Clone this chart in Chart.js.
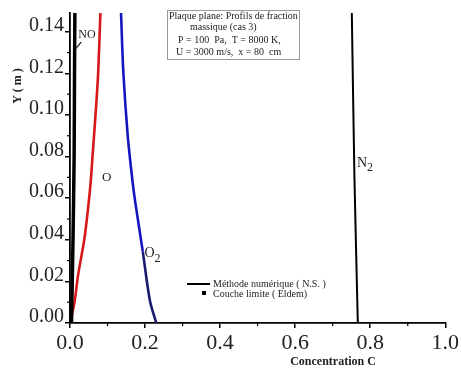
<!DOCTYPE html>
<html>
<head>
<meta charset="utf-8">
<script src="https://cdn.jsdelivr.net/npm/chart.js@4/dist/chart.umd.min.js"></script>
<style>
html,body{margin:0;padding:0;background:#fff;}
#wrap{width:461px;height:376px;position:relative;}
</style>
</head>
<body>
<div id="wrap"><canvas id="c" width="461" height="376"></canvas></div>
<script>
// ---- data ----
const xTicks = [0.0, 0.2, 0.4, 0.6, 0.8, 1.0];
const yTicks = [0.00, 0.02, 0.04, 0.06, 0.08, 0.10, 0.12, 0.14];

const yNO = [0, 0.04, 0.08, 0.12, 0.149];
const cNO = [0.004, 0.008, 0.011, 0.012, 0.013];

const yO = [0, 0.004, 0.01, 0.0235, 0.04, 0.05, 0.06, 0.0675, 0.08, 0.10, 0.12, 0.149];
const cO = [0, 0.005, 0.012, 0.022, 0.038, 0.045, 0.051, 0.055, 0.060, 0.068, 0.075, 0.081];

const yO2 = [0, 0.0107, 0.0343, 0.058, 0.0675, 0.0897, 0.121, 0.149];
const cO2 = [0.230, 0.213, 0.194, 0.174, 0.167, 0.154, 0.142, 0.136];

const yN2 = [0, 0.07, 0.149];
const cN2 = [0.767, 0.758, 0.751];

const speciesLabels = [
  {main:'NO', sub:'', c:0.045, y:0.1384, size:12},
  {main:'O', sub:'', c:0.098, y:0.0698, size:13},
  {main:'O', sub:'2', c:0.212, y:0.0334, size:14},
  {main:'N', sub:'2', c:0.778, y:0.0769, size:14}
];
const boxLines = ['Plaque plane: Profils de fraction', 'massique (cas 3)', 'P = 100  Pa,  T = 8000 K,', 'U = 3000 m/s,  x = 80  cm'];
const legendItems = ['Méthode numérique ( N.S. )', 'Couche limite ( Eldem)'];

function pts(cs, ys){ return cs.map((c,i)=>({x:c, y:ys[i]})); }

const SERIF = '"Liberation Serif", "DejaVu Serif", serif';

const overlay = {
  id:'overlay',
  afterDraw(chart){
    const ctx = chart.ctx, xs = chart.scales.x, ys = chart.scales.y;
    ctx.save();
    // minor ticks
    ctx.strokeStyle = '#000'; ctx.lineWidth = 1.2;
    for (let i=0;i<xTicks.length-1;i++){
      const v = (xTicks[i]+xTicks[i+1])/2, px = xs.getPixelForValue(v);
      ctx.beginPath(); ctx.moveTo(px, xs.top); ctx.lineTo(px, xs.top+3); ctx.stroke();
    }
    for (let i=0;i<yTicks.length-1;i++){
      const v = (yTicks[i]+yTicks[i+1])/2, py = ys.getPixelForValue(v);
      ctx.beginPath(); ctx.moveTo(ys.right, py); ctx.lineTo(ys.right-3, py); ctx.stroke();
    }
    // axis titles
    ctx.fillStyle = '#222';
    ctx.font = 'bold 12px ' + SERIF;
    ctx.textAlign = 'center'; ctx.textBaseline = 'middle';
    ctx.fillText('Concentration C', 333, 362);
    ctx.save();
    ctx.translate(18, 86); ctx.rotate(-Math.PI/2);
    ctx.fillText('Y ( m )', 0, 0);
    ctx.restore();
    // species labels
    ctx.textAlign = 'left';
    speciesLabels.forEach(l=>{
      const px = xs.getPixelForValue(l.c), py = ys.getPixelForValue(l.y);
      ctx.font = l.size + 'px ' + SERIF;
      const w = ctx.measureText(l.main).width;
      const x0 = px - w/2;
      ctx.fillText(l.main, x0, py);
      if (l.sub){
        ctx.font = (l.size-2) + 'px ' + SERIF;
        ctx.fillText(l.sub, x0 + w, py + 5);
      }
      if (l.main === 'NO' && !l.sub){
        ctx.strokeStyle = '#111'; ctx.lineWidth = 1.2;
        ctx.beginPath(); ctx.moveTo(x0+3, py+7); ctx.lineTo(x0-3, py+14); ctx.stroke();
      }
    });
    // annotation box
    ctx.strokeStyle = '#999'; ctx.lineWidth = 1;
    ctx.strokeRect(167.5, 10.5, 132, 49);
    ctx.font = '10px ' + SERIF; ctx.fillStyle = '#222';
    const bx = [169, 190, 178, 176], by = [16, 27, 40, 52];
    boxLines.forEach((t,i)=> ctx.fillText(t, bx[i], by[i]));
    // legend
    ctx.strokeStyle = '#000'; ctx.lineWidth = 2;
    ctx.beginPath(); ctx.moveTo(187, 284); ctx.lineTo(210, 284); ctx.stroke();
    ctx.fillStyle = '#000';
    ctx.fillRect(202, 291, 4, 4);
    ctx.fillStyle = '#222';
    ctx.font = '10px ' + SERIF;
    ctx.fillText(legendItems[0], 213, 284);
    ctx.fillText(legendItems[1], 213, 294);
    ctx.restore();
  }
};

new Chart(document.getElementById('c'), {
  type:'scatter',
  data:{
    datasets:[
      {label:'NO', data:pts(cNO,yNO), showLine:true, borderColor:'#000', borderWidth:3.5, pointRadius:0, tension:0.2},
      {label:'O', data:pts(cO,yO), showLine:true, borderColor:'#d81818', borderWidth:2.6, pointRadius:0, tension:0.3},
      {label:'O2', data:pts(cO2,yO2), showLine:true, borderColor:'#1515c0', borderWidth:2.6, pointRadius:0, tension:0.3,
        segment:{borderColor: s => s.p0.parsed.y < 0.03 ? '#1a1a70' : '#1515c0'}},
      {label:'N2', data:pts(cN2,yN2), showLine:true, borderColor:'#000', borderWidth:2, pointRadius:0, tension:0.2}
    ]
  },
  options:{
    responsive:false, animation:false,
    layout:{padding:{left:0, right:14, top:6, bottom:0}},
    plugins:{legend:{display:false}, tooltip:{enabled:false}},
    scales:{
      x:{
        type:'linear', min:0, max:1,
        afterBuildTicks: s => { s.ticks = xTicks.map(v=>({value:v})); },
        afterFit: s => { s.height = 53; },
        grid:{display:true, drawOnChartArea:false, drawTicks:true, tickLength:5, color:'#000', lineWidth:1.5},
        border:{display:true, color:'#000', width:1.8},
        ticks:{color:'#222', font:{family:SERIF, size:22}, padding:2, maxRotation:0,
          callback: v => Number(v).toFixed(1)}
      },
      y:{
        type:'linear', min:0, max:0.149,
        afterBuildTicks: s => { s.ticks = yTicks.map(v=>({value:v})); },
        afterFit: s => { s.width = 70; },
        grid:{display:true, drawOnChartArea:false, drawTicks:true, tickLength:5, color:'#000', lineWidth:1.5},
        border:{display:true, color:'#000', width:1.8},
        ticks:{color:'#222', font:{family:SERIF, size:20}, padding:1, labelOffset:-6,
          callback: v => Number(v).toFixed(2)}
      }
    }
  },
  plugins:[overlay]
});
</script>
</body>
</html>
